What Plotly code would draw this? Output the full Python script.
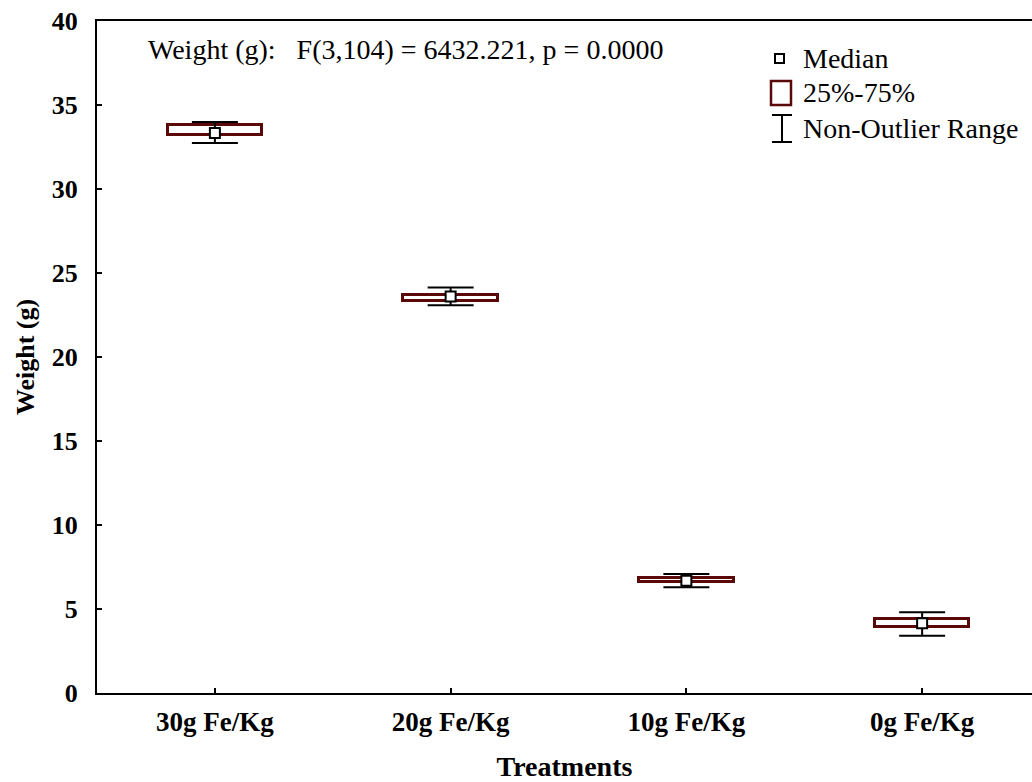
import plotly.graph_objects as go

categories = ["30g Fe/Kg", "20g Fe/Kg", "10g Fe/Kg", "0g Fe/Kg"]
medians = [33.33, 23.60, 6.68, 4.15]
q1 = [33.24, 23.34, 6.59, 3.94]
q3 = [33.83, 23.72, 6.86, 4.40]
whisk_lo = [32.74, 23.08, 6.29, 3.41]
whisk_hi = [33.99, 24.13, 7.08, 4.80]
y_ticks = [0, 5, 10, 15, 20, 25, 30, 35, 40]

BOX = "#5a0808"
SERIF = "Liberation Serif, Times New Roman, serif"

W, H = 1032, 782
L, R, T, B = 97, 0, 21, 89
pw, ph = W - L - R, H - T - B


def px(x):
    return (x - L) / pw


def py(y):
    return (H - B - y) / ph


fig = go.Figure()

fig.add_trace(go.Bar(
    x=categories,
    y=[b - a for a, b in zip(q1, q3)],
    base=q1,
    width=0.4,
    marker=dict(color="white", line=dict(color=BOX, width=3)),
    showlegend=False,
    hoverinfo="skip",
))

fig.add_trace(go.Scatter(
    x=categories,
    y=medians,
    mode="markers",
    marker=dict(symbol="square", size=10, color="white",
                line=dict(color="black", width=2)),
    error_y=dict(type="data", symmetric=False,
                 array=[h - m for h, m in zip(whisk_hi, medians)],
                 arrayminus=[m - l for m, l in zip(medians, whisk_lo)],
                 color="black", thickness=2, width=23),
    showlegend=False,
))

shapes = []
shapes.append(dict(type="rect", xref="paper", yref="paper",
                   x0=px(775), x1=px(784), y0=py(54), y1=py(63),
                   line=dict(color="black", width=2)))
shapes.append(dict(type="rect", xref="paper", yref="paper",
                   x0=px(771), x1=px(791), y0=py(81), y1=py(105),
                   line=dict(color=BOX, width=2.5)))
for (x0, y0, x1, y1) in [(772, 115, 792, 115), (772, 142, 792, 142), (782, 115, 782, 142)]:
    shapes.append(dict(type="line", xref="paper", yref="paper",
                       x0=px(x0), x1=px(x1), y0=py(y0), y1=py(y1),
                       line=dict(color="black", width=2)))

annotations = []
for text, yc in [("Median", 58), ("25%-75%", 93), ("Non-Outlier Range", 128)]:
    annotations.append(dict(text=text, xref="paper", yref="paper",
                            x=px(801), y=py(yc), xanchor="left", yanchor="middle",
                            showarrow=False,
                            font=dict(family=SERIF, size=28, color="black")))
annotations.append(dict(
    text="Weight (g):\u00a0\u00a0 F(3,104) = 6432.221, p = 0.0000",
    xref="paper", yref="paper", x=px(146), y=py(50),
    xanchor="left", yanchor="middle", showarrow=False,
    font=dict(family=SERIF, size=28, color="black")))

fig.update_layout(
    width=W, height=H,
    margin=dict(l=L, r=R, t=T, b=B, pad=0, autoexpand=False),
    plot_bgcolor="white", paper_bgcolor="white",
    bargap=0,
    shapes=shapes,
    annotations=annotations,
    font=dict(family=SERIF, color="black"),
)

fig.update_xaxes(
    type="category",
    range=[-0.5, 3.466],
    automargin=False,
    showline=True, linecolor="black", linewidth=2, mirror=True,
    ticks="inside", ticklen=5, tickwidth=1.5, tickcolor="black",
    showgrid=False, zeroline=False,
    tickfont=dict(family=SERIF, size=27, color="black", weight="bold"),
    ticklabelstandoff=4,
    title=dict(text="Treatments", standoff=31,
               font=dict(family=SERIF, size=28, color="black", weight="bold")),
)

fig.update_yaxes(
    range=[0, 40],
    automargin=False,
    tickvals=y_ticks,
    ticktext=[str(v) for v in y_ticks],
    showline=True, linecolor="black", linewidth=2, mirror=False,
    ticks="inside", ticklen=5, tickwidth=1.5, tickcolor="black",
    showgrid=False, zeroline=False,
    tickfont=dict(family=SERIF, size=26, color="black", weight="bold"),
    ticklabelstandoff=12,
    title=dict(text="Weight (g)", standoff=10,
               font=dict(family=SERIF, size=26, color="black", weight="bold")),
)

fig.write_html("out.html")
